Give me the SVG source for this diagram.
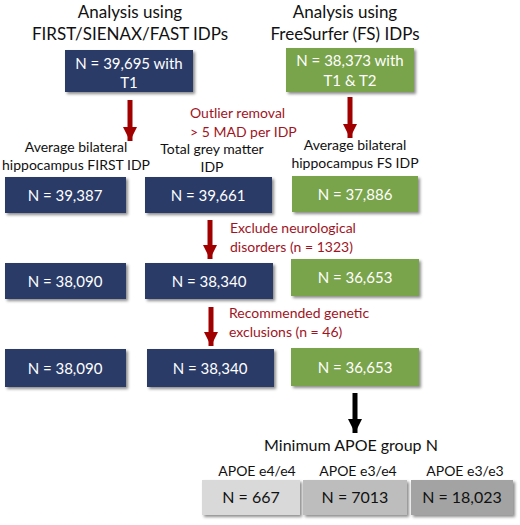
<svg xmlns="http://www.w3.org/2000/svg" width="520" height="525" viewBox="0 0 520 525">
<style>
text{font-family:Lato,"Open Sans","Liberation Sans",sans-serif;}
.title{font-size:17px;fill:#111;text-anchor:middle;}
.lbl{font-size:14px;fill:#111;text-anchor:middle;}
.red{font-size:14px;fill:#a0141e;}
.bt{font-size:15px;fill:#fff;text-anchor:middle;}
.gt{font-size:16px;fill:#111;text-anchor:middle;}
.apoe{font-size:14px;fill:#111;text-anchor:middle;}
.blue{fill:#2b3a67;filter:url(#sh);}
.green{fill:#7aa44b;filter:url(#sh);}
.redarrow{stroke:#a00000;stroke-width:5;fill:none;}
.blackarrow{stroke:#000;stroke-width:5;fill:none;}
</style>
<defs>
<filter id="sh" x="-10%" y="-20%" width="130%" height="160%">
<feDropShadow dx="2" dy="2" stdDeviation="1.5" flood-color="#000" flood-opacity="0.45"/>
</filter>
<marker id="ar" viewBox="0 0 10 10" refX="10" refY="5" markerWidth="3.6" markerHeight="2.8" orient="auto" markerUnits="strokeWidth">
<path d="M0,0 L10,5 L0,10 z" fill="#a00000"/>
</marker>
<marker id="ab" viewBox="0 0 10 10" refX="10" refY="5" markerWidth="3.6" markerHeight="2.8" orient="auto" markerUnits="strokeWidth">
<path d="M0,0 L10,5 L0,10 z" fill="#000"/>
</marker>
</defs>

<g id="titles">
<text class="title" x="130" y="18">Analysis using</text>
<text class="title" x="130" y="40">FIRST/SIENAX/FAST IDPs</text>
<text class="title" x="345" y="18">Analysis using</text>
<text class="title" x="345" y="40">FreeSurfer (FS) IDPs</text>
</g>

<g id="connectors">
<line class="redarrow" x1="130" y1="100" x2="130" y2="141" marker-end="url(#ar)"/>
<line class="redarrow" x1="350" y1="97" x2="350" y2="138" marker-end="url(#ar)"/>
<line class="redarrow" x1="210" y1="220" x2="210" y2="259" marker-end="url(#ar)"/>
<line class="redarrow" x1="211" y1="307" x2="211" y2="346" marker-end="url(#ar)"/>
<line class="blackarrow" x1="355" y1="393" x2="355" y2="433" marker-end="url(#ab)"/>
</g>

<g id="notes">
<text class="red" x="190" y="118">Outlier removal</text>
<text class="red" x="190" y="137">&gt; 5 MAD per IDP</text>
<text class="red" x="230" y="233">Exclude neurological</text>
<text class="red" x="230" y="252">disorders (n = 1323)</text>
<text class="red" x="229" y="318">Recommended genetic</text>
<text class="red" x="229" y="337">exclusions (n = 46)</text>
</g>

<g id="n-first-start">
<rect class="blue" x="65" y="50" width="128" height="42"/>
<text class="bt" x="129" y="68.5">N = 39,695 with</text>
<text class="bt" x="129" y="88">T1</text>
</g>
<g id="n-fs-start">
<rect class="green" x="286" y="48" width="128" height="44"/>
<text class="bt" x="350" y="65.5">N = 38,373 with</text>
<text class="bt" x="350" y="85.5">T1 &amp; T2</text>
</g>

<g id="labels-row2">
<text class="lbl" x="76" y="152">Average bilateral</text>
<text class="lbl" x="76" y="170">hippocampus FIRST IDP</text>
<text class="lbl" x="212" y="154">Total grey matter</text>
<text class="lbl" x="212" y="172">IDP</text>
<text class="lbl" x="355" y="150">Average bilateral</text>
<text class="lbl" x="355" y="168">hippocampus FS IDP</text>
</g>

<g id="r2-hipp-first">
<rect class="blue" x="5" y="177" width="121" height="36"/>
<text class="bt" x="65" y="200.5">N = 39,387</text>
</g>
<g id="r2-gm">
<rect class="blue" x="145" y="177" width="127" height="36"/>
<text class="bt" x="208" y="200.5">N = 39,661</text>
</g>
<g id="r2-hipp-fs">
<rect class="green" x="292" y="176" width="126" height="36"/>
<text class="bt" x="355" y="199.5">N = 37,886</text>
</g>

<g id="r3-hipp-first">
<rect class="blue" x="5" y="263" width="121" height="36"/>
<text class="bt" x="65" y="286.5">N = 38,090</text>
</g>
<g id="r3-gm">
<rect class="blue" x="145" y="263" width="128" height="36"/>
<text class="bt" x="209" y="286.5">N = 38,340</text>
</g>
<g id="r3-hipp-fs">
<rect class="green" x="291" y="259" width="128" height="37"/>
<text class="bt" x="355" y="283">N = 36,653</text>
</g>

<g id="r4-hipp-first">
<rect class="blue" x="5" y="349" width="121" height="38"/>
<text class="bt" x="65" y="373.5">N = 38,090</text>
</g>
<g id="r4-gm">
<rect class="blue" x="147" y="349" width="127" height="38"/>
<text class="bt" x="210" y="373.5">N = 38,340</text>
</g>
<g id="r4-hipp-fs">
<rect class="green" x="291" y="348" width="128" height="38"/>
<text class="bt" x="355" y="372.5">N = 36,653</text>
</g>

<g id="apoe-title">
<text class="gt" x="351" y="451">Minimum APOE group N</text>
</g>

<g id="apoe-e4e4">
<text class="apoe" x="257" y="476">APOE e4/e4</text>
<rect x="202" y="480" width="98" height="35" fill="#d9d9d9" filter="url(#sh)"/>
<text class="gt" x="251" y="503">N = 667</text>
</g>
<g id="apoe-e3e4">
<text class="apoe" x="358" y="476">APOE e3/e4</text>
<rect x="303" y="480" width="104" height="35" fill="#bdbdbd" filter="url(#sh)"/>
<text class="gt" x="355" y="503">N = 7013</text>
</g>
<g id="apoe-e3e3">
<text class="apoe" x="465" y="476">APOE e3/e3</text>
<rect x="411" y="480" width="102" height="35" fill="#a3a3a3" filter="url(#sh)"/>
<text class="gt" x="462" y="503">N = 18,023</text>
</g>
</svg>
